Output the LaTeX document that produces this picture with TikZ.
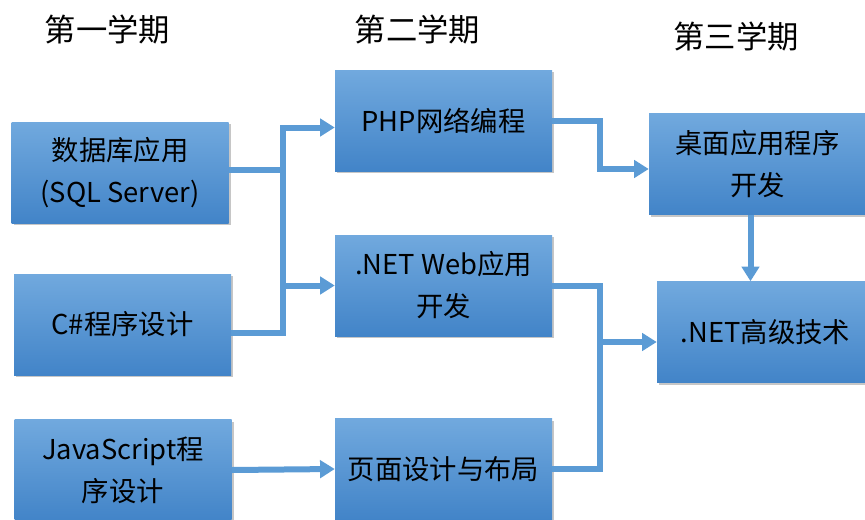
\documentclass[tikz,border=0pt]{standalone}
\usepackage{fontspec}
\setmainfont{Noto Sans CJK SC}
\usetikzlibrary{arrows.meta}
\usetikzlibrary{shadows}
\usetikzlibrary{calc}

\definecolor{linkblue}{RGB}{91,155,213}
\definecolor{boxtop}{RGB}{113,169,222}
\definecolor{boxbot}{RGB}{66,132,200}

\tikzset{
  course/.style={rectangle, top color=boxtop, bottom color=boxbot, draw=none,
    minimum width=162.75pt, minimum height=75.75pt, align=center, font=\fontsize{20.5}{31.5}\selectfont,
    drop shadow={opacity=0.45, shadow xshift=1.5pt, shadow yshift=-1.5pt}},
  term/.style={font=\fontsize{23.5}{27}\selectfont, inner sep=0.75pt},
  link/.style={draw=linkblue, line width=4.5pt, line join=miter},
  linkarrow/.style={link, -{Triangle[length=11pt,width=13pt]}}
}

\begin{document}
\begin{tikzpicture}[x=0.75pt,y=0.75pt,yscale=-1,xscale=1]
\useasboundingbox (0,0) rectangle (865,519);
\clip (0,0) rectangle (865,519);

% Text Node
\node[term] (t1) at (107.5,30) {第一学期};
% Text Node
\node[term] (t2) at (417.5,30) {第二学期};
% Text Node
\node[term] (t3) at (736,37) {第三学期};

%Shape: Rectangle
\node[course] (db) at (120,172.5) {数据库应用\\(SQL Server)};
%Shape: Rectangle
\node[course] (cs) at (122.5,324.5) {C\#程序设计};
%Shape: Rectangle
\node[course] (js) at (123,470) {JavaScript程\\序设计};
%Shape: Rectangle
\node[course] (php) at (443.5,120.5) {PHP网络编程};
%Shape: Rectangle
\node[course] (web) at (443.5,285.5) {.NET Web应用\\开发};
%Shape: Rectangle
\node[course] (page) at (443.5,469) {页面设计与布局};
%Shape: Rectangle
\node[course] (desk) at (757.5,164) {桌面应用程序\\开发};
%Shape: Rectangle
\node[course] (adv) at (765.5,332) {.NET高级技术};

% split points
\coordinate (sp1) at (283,0);
\coordinate (sp2) at (600,0);

%Straight Lines
\draw[link] ($(db.east)+(0,-3)$) -- ($(db.east -| sp1)+(0,-3)$);
\draw[linkarrow] ($(cs.east)+(0,8)$) -- ($(cs.east -| sp1)+(0,8)$) |- ($(php.west)+(0,7)$);
\draw[linkarrow] (web.west -| sp1) -- (web.west);
\draw[linkarrow] (js.east) -- (page.west);
%Straight Lines
\draw[linkarrow] (php.east) -- (php.east -| sp2) |- ($(desk.west)+(0,5)$);
\draw[linkarrow] (web.east) -- (web.east -| sp2) |- ($(adv.west)+(0,10)$);
\draw[link] (page.east) -| ($(sp2 |- adv.west)+(0,10)$);
\draw[linkarrow] ($(desk.south)+(-7,0)$) -- ($(desk.south |- adv.north)+(-7,0)$);

\end{tikzpicture}
\end{document}
